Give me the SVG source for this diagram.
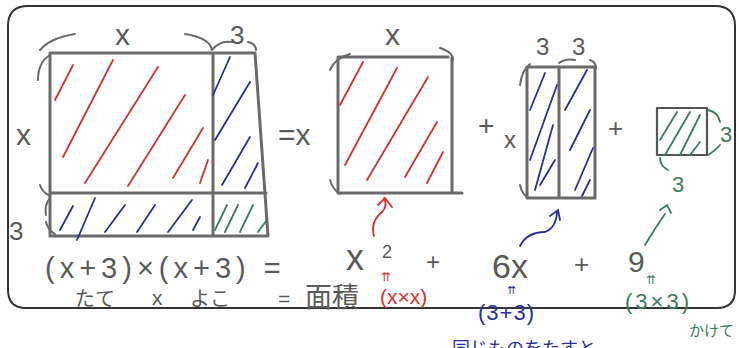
<svg xmlns="http://www.w3.org/2000/svg" width="739" height="348" viewBox="0 0 739 348">
<style>
.frame{fill:none;stroke:#333;stroke-width:2}
.box{fill:none;stroke:#6a6a6a;stroke-width:3;stroke-linecap:round;stroke-linejoin:round}
.thin{fill:none;stroke:#6a6a6a;stroke-width:2;stroke-linecap:round}
.r{stroke:#d8302e;stroke-width:1.8;stroke-linecap:round;fill:none}
.b{stroke:#2a2e9a;stroke-width:1.8;stroke-linecap:round;fill:none}
.g{stroke:#3d7a5a;stroke-width:1.8;stroke-linecap:round;fill:none}
.t{font-family:"Liberation Sans","Noto Sans CJK JP",sans-serif;fill:#5a5a5a}
.tr{font-family:"Liberation Sans","Noto Sans CJK JP",sans-serif;fill:#d8302e}
.tb{font-family:"Liberation Sans","Noto Sans CJK JP",sans-serif;fill:#2a2e9a}
.tg{font-family:"Liberation Sans","Noto Sans CJK JP",sans-serif;fill:#3d7a5a}
</style>
<rect width="739" height="348" fill="#fff"/>
<path class="frame" d="M28 6 H715 Q735 6 735 26 V290 Q735 308 717 308 H26 Q8 308 8 290 V26 Q8 6 28 6 Z"/>

<g id="big-square">
  <path class="box" d="M50 53 H255 M50 53 V236 H266 M213 53 V236 M255 53 L268 236 M50 193 H266"/>
  <path class="r" d="M55 100 L73 65 M63 157 L113 60 M85 183 L158 67 M128 186 L185 95 M173 178 L203 128 M200 183 L208 160"/>
  <path class="b" d="M213 95 L230 57 M215 140 L250 82 M222 185 L250 137 M245 188 L258 163"/>
  <path class="b" d="M60 230 L73 206 M77 240 L95 198 M105 232 L125 205 M137 232 L155 205 M168 232 L192 200 M193 230 L200 217"/>
  <path class="g" d="M215 230 L227 205 M225 232 L238 205 M240 232 L253 205 M258 232 L267 220"/>
  <path class="thin" d="M40 50 Q50 38 75 34 M185 34 Q210 38 212 50 M212 50 Q220 40 232 42 M248 42 Q256 44 256 50"/>
  <path class="thin" d="M50 55 Q38 62 38 80 M40 185 Q42 192 50 196 M50 198 Q44 205 46 215 M46 222 Q48 230 55 234"/>
  <text class="t" x="115" y="45" font-size="30">x</text>
  <text class="t" x="230" y="44" font-size="26">3</text>
  <text class="t" x="16" y="145" font-size="30">x</text>
  <text class="t" x="9" y="240" font-size="26">3</text>
</g>

<g id="eq1"><text class="t" x="278" y="145" font-size="30">=x</text></g>

<g id="x-squared">
  <path class="box" d="M338 57 H448 M338 57 V193 H462 M452 57 V193"/>
  <path class="r" d="M340 105 L363 62 M345 165 L397 68 M367 180 L428 77 M405 177 L437 122 M427 183 L443 152"/>
  <path class="thin" d="M330 70 Q335 58 350 54 M440 48 Q453 52 453 60 M330 180 Q333 190 340 194"/>
  <text class="t" x="385" y="45" font-size="30">x</text>
</g>

<g id="plus1"><text class="t" x="478" y="135" font-size="28">+</text><text class="t" x="504" y="148" font-size="24">x</text></g>

<g id="three-x">
  <path class="box" d="M527 67 H595 V198 H527 Z M559 67 V198"/>
  <path class="b" d="M530 110 L545 73 M530 160 L557 85 M535 190 L553 125 M540 185 L555 160 M565 110 L587 70 M570 150 L590 110 M575 190 L593 148 M582 196 L590 180"/>
  <path class="thin" d="M520 85 Q522 70 530 64 M520 185 Q522 194 528 198 M559 63 Q566 58 575 60 M590 60 Q596 62 596 68"/>
  <text class="t" x="536" y="55" font-size="24">3</text>
  <text class="t" x="572" y="55" font-size="24">3</text>
</g>

<g id="plus2"><text class="t" x="608" y="137" font-size="26">+</text></g>

<g id="three-sq">
  <path class="box" d="M657 108 H707 V155 H657 Z" style="stroke:#555;stroke-width:2.2"/>
  <path class="g" d="M660 140 L677 112 M665 155 L690 112 M680 155 L700 115 M690 155 L700 142"/>
  <path class="g" d="M708 110 Q718 112 720 122 M708 155 Q716 150 720 145 M660 158 Q660 166 668 170"/>
  <text class="tg" x="720" y="142" font-size="22">3</text>
  <text class="tg" x="672" y="192" font-size="22">3</text>
</g>

<g id="connectors">
  <path class="r" d="M374 236 Q370 222 382 212 Q388 206 384 198 M378 205 L385 198 L392 207"/>
  <path class="b" d="M520 246 Q527 232 545 232 Q556 228 557 212 M550 216 L558 210 L560 220"/>
  <path class="g" d="M645 245 Q655 228 665 214 M660 210 L667 205 L671 213"/>
</g>

<g id="equation">
  <text class="t" x="45" y="278" font-size="29" letter-spacing="5">(x+3)×(x+3) =</text>
  <text class="t" x="346" y="270" font-size="36">x</text>
  <text class="t" x="382" y="258" font-size="18">2</text>
  <text class="t" x="426" y="270" font-size="24">+</text>
  <text class="t" x="492" y="278" font-size="34">6x</text>
  <text class="t" x="574" y="273" font-size="26">+</text>
  <text class="t" x="628" y="272" font-size="30">9</text>
  <text class="tr" x="381" y="281" font-size="12">⇈</text>
  <text class="tb" x="507" y="294" font-size="11">⇈</text>
  <text class="tg" x="646" y="284" font-size="12">⇈</text>
  <text class="tr" x="380" y="304" font-size="21">(x×x)</text>
  <text class="tb" x="478" y="320" font-size="22" letter-spacing="1">(3+3)</text>
  <text class="tg" x="625" y="309" font-size="22" letter-spacing="3">(3×3)</text>
  <text class="tg" x="689" y="336" font-size="15">かけて</text>
  <text class="t" x="75" y="306" font-size="20">たて</text>
  <text class="t" x="152" y="305" font-size="21">x</text>
  <text class="t" x="190" y="306" font-size="20">よこ</text>
  <text class="t" x="278" y="306" font-size="21">=</text>
  <text class="t" x="305" y="307" font-size="27">面積</text>
  <text class="tb" x="452" y="355" font-size="18">同じものをたすと</text>
</g>
</svg>
